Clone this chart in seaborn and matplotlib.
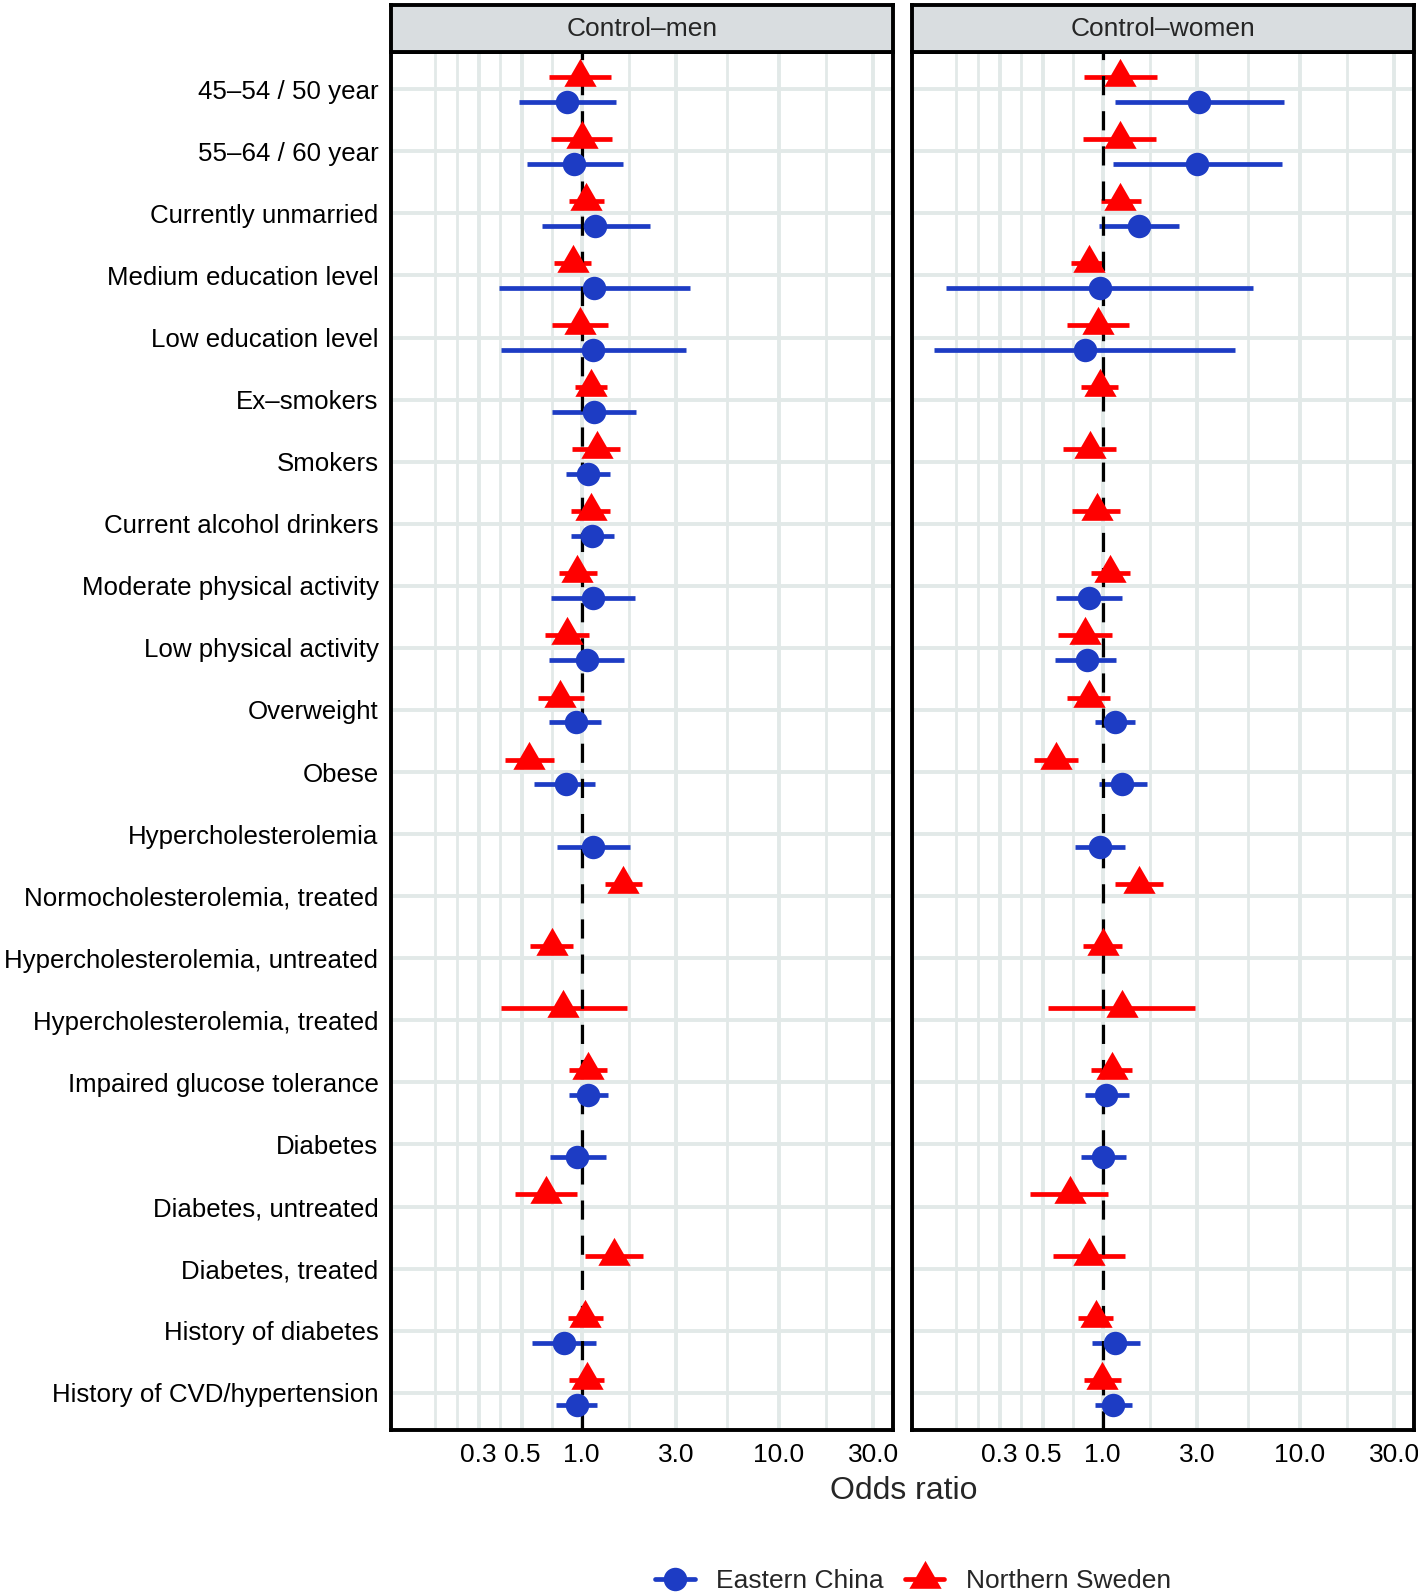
import numpy as np
import pandas as pd
import matplotlib
matplotlib.use("Agg")
import matplotlib.pyplot as plt
from matplotlib.lines import Line2D
from matplotlib.ticker import NullFormatter
import seaborn as sns

sns.set_theme(style="white")
plt.rcParams["font.family"] = ["Liberation Sans", "DejaVu Sans"]

# ── data ─────────────────────────────────────────────────────────────────────
CATEGORIES = [
    "45–54 / 50 year", "55–64 / 60 year", "Currently unmarried",
    "Medium education level", "Low education level", "Ex–smokers", "Smokers",
    "Current alcohol drinkers", "Moderate physical activity",
    "Low physical activity", "Overweight", "Obese", "Hypercholesterolemia",
    "Normocholesterolemia, treated", "Hypercholesterolemia, untreated",
    "Hypercholesterolemia, treated", "Impaired glucose tolerance", "Diabetes",
    "Diabetes, untreated", "Diabetes, treated", "History of diabetes",
    "History of CVD/hypertension",
]
nan = np.nan

# Control-men, Northern Sweden
men_se_or = [0.98, 1.00, 1.05, 0.90, 0.98, 1.11, 1.19, 1.11, 0.95, 0.84, 0.78, 0.54,
             nan, 1.62, 0.71, 0.80, 1.07, nan, 0.66, 1.46, 1.04, 1.06]
men_se_lo = [0.68, 0.70, 0.86, 0.72, 0.71, 0.92, 0.89, 0.88, 0.77, 0.65, 0.60, 0.41,
             nan, 1.31, 0.55, 0.39, 0.86, nan, 0.46, 1.04, 0.85, 0.86]
men_se_hi = [1.40, 1.43, 1.30, 1.11, 1.36, 1.35, 1.57, 1.39, 1.19, 1.09, 1.03, 0.72,
             nan, 2.01, 0.90, 1.69, 1.34, nan, 0.95, 2.04, 1.28, 1.29]
# Control-men, Eastern China
men_cn_or = [0.84, 0.91, 1.17, 1.16, 1.14, 1.15, 1.08, 1.13, 1.14, 1.06, 0.93, 0.83,
             1.14, nan, nan, nan, 1.08, 0.95, nan, nan, 0.81, 0.95]
men_cn_lo = [0.48, 0.53, 0.63, 0.38, 0.39, 0.71, 0.83, 0.88, 0.70, 0.68, 0.68, 0.57,
             0.75, nan, nan, nan, 0.86, 0.69, nan, nan, 0.56, 0.74]
men_cn_hi = [1.49, 1.61, 2.21, 3.53, 3.37, 1.89, 1.39, 1.45, 1.86, 1.64, 1.25, 1.17,
             1.75, nan, nan, nan, 1.36, 1.32, nan, nan, 1.18, 1.20]
# Control-women, Northern Sweden
wom_se_or = [1.22, 1.22, 1.23, 0.85, 0.95, 0.97, 0.86, 0.93, 1.09, 0.81, 0.85, 0.58,
             nan, 1.53, 1.00, 1.25, 1.11, nan, 0.68, 0.85, 0.92, 0.99]
wom_se_lo = [0.80, 0.79, 0.98, 0.69, 0.66, 0.78, 0.63, 0.70, 0.87, 0.59, 0.66, 0.45,
             nan, 1.15, 0.79, 0.53, 0.87, nan, 0.43, 0.56, 0.75, 0.80]
wom_se_hi = [1.88, 1.86, 1.56, 1.02, 1.36, 1.19, 1.17, 1.22, 1.37, 1.12, 1.09, 0.75,
             nan, 2.03, 1.25, 2.94, 1.41, nan, 1.06, 1.29, 1.13, 1.24]
# Control-women, Eastern China
wom_cn_or = [3.08, 3.02, 1.52, 0.97, 0.81, nan, nan, nan, 0.85, 0.83, 1.15, 1.25,
             0.97, nan, nan, nan, 1.04, 1.00, nan, nan, 1.16, 1.13]
wom_cn_lo = [1.15, 1.13, 0.96, 0.16, 0.14, nan, nan, nan, 0.58, 0.57, 0.91, 0.96,
             0.72, nan, nan, nan, 0.81, 0.78, nan, nan, 0.88, 0.91]
wom_cn_hi = [8.26, 8.10, 2.43, 5.75, 4.70, nan, nan, nan, 1.25, 1.17, 1.45, 1.67,
             1.29, nan, nan, nan, 1.36, 1.31, nan, nan, 1.55, 1.41]

PANELS = ["Control–men", "Control–women"]
REGIONS = ["Eastern China", "Northern Sweden"]
BREAKS = [0.3, 0.5, 1.0, 3.0, 10.0, 30.0]
BREAK_LABELS = ["0.3", "0.5", "1.0", "3.0", "10.0", "30.0"]

BLUE = "#1d3cc4"
RED = "#ff0000"
GRID = "#e2e9e8"
TRI = [(0, 1), (-0.866, -0.5), (0.866, -0.5), (0, 1)]
FS = 19

frames = []
for panel, reg, o, lo, hi in [
    (PANELS[0], REGIONS[1], men_se_or, men_se_lo, men_se_hi),
    (PANELS[0], REGIONS[0], men_cn_or, men_cn_lo, men_cn_hi),
    (PANELS[1], REGIONS[1], wom_se_or, wom_se_lo, wom_se_hi),
    (PANELS[1], REGIONS[0], wom_cn_or, wom_cn_lo, wom_cn_hi),
]:
    frames.append(pd.DataFrame({"panel": panel, "region": reg, "cat": CATEGORIES,
                                "OR": o, "lo": lo, "hi": hi}))
df = pd.concat(frames, ignore_index=True).dropna()
df["y"] = df["cat"].map({c: i for i, c in enumerate(CATEGORIES)})
df["y"] = df["y"] + np.where(df["region"] == REGIONS[0], 0.2, -0.2)

style = {REGIONS[0]: dict(color=BLUE, marker="o", s=285),
         REGIONS[1]: dict(color=RED, marker=TRI, s=720)}

# minor grid: geometric midpoints of the breaks (ggplot style), plus one extension below
lb = np.log10(BREAKS)
ext = np.concatenate([[lb[0] - (lb[1] - lb[0])], lb])
minor = list(10 ** ext[:1]) + list(10 ** ((ext[:-1] + ext[1:]) / 2))

W, H = 1418, 1594
fig = plt.figure(figsize=(W / 100, H / 100), dpi=100)
pan_x = [391, 912]
pan_w = 502
top, bot = 52, 1430

for k, panel in enumerate(PANELS):
    ax = fig.add_axes([pan_x[k] / W, 1 - bot / H, pan_w / W, (bot - top) / H])
    sub = df[df["panel"] == panel]
    ax.set_xscale("log")
    ax.set_axisbelow(True)
    for reg in REGIONS:
        d = sub[sub["region"] == reg]
        ax.hlines(d["y"], d["lo"], d["hi"], color=style[reg]["color"], lw=3.4, zorder=2)
        sns.scatterplot(data=d, x="OR", y="y", ax=ax, color=style[reg]["color"],
                        marker=style[reg]["marker"], s=style[reg]["s"],
                        linewidth=0, legend=False, zorder=4)
    ax.axvline(1, color="black", lw=2.3, ls=(0, (6, 5)), zorder=3)

    ax.set_xlim(0.108, 37.8)
    ax.set_ylim(len(CATEGORIES) - 1 + 0.6, -0.6)
    ax.set_xticks(BREAKS)
    ax.set_xticklabels(BREAK_LABELS)
    ax.set_xticks(minor, minor=True)
    ax.xaxis.set_minor_formatter(NullFormatter())
    ax.set_yticks(range(len(CATEGORIES)))
    if k == 0:
        ax.set_yticklabels(CATEGORIES)
        ax.tick_params(axis="y", length=5.5, width=2.2, pad=3.5, labelsize=18.6,
                       color="black", labelcolor="black")
    else:
        ax.set_yticklabels([])
        ax.tick_params(axis="y", length=0)
    ax.tick_params(axis="x", which="major", length=5.5, width=2.2, pad=4,
                   labelsize=FS, color="black", labelcolor="black")
    ax.tick_params(axis="x", which="minor", length=0)
    ax.grid(which="major", color=GRID, lw=2.8)
    ax.grid(which="minor", axis="x", color=GRID, lw=2.0)
    ax.set_xlabel("")
    ax.set_ylabel("")
    ax.set_facecolor("white")
    for sp in ax.spines.values():
        sp.set_visible(True)
        sp.set_color("black")
        sp.set_linewidth(2.8)

    strip = fig.add_axes([pan_x[k] / W, 1 - top / H, pan_w / W, (top - 5) / H])
    strip.set_facecolor("#d9dde0")
    strip.set_xticks([])
    strip.set_yticks([])
    for sp in strip.spines.values():
        sp.set_visible(True)
        sp.set_color("black")
        sp.set_linewidth(2.8)
    strip.text(0.5, 0.5, panel, ha="center", va="center", fontsize=FS,
               transform=strip.transAxes)

fig.text(904 / W, 1 - 1491 / H, "Odds ratio", ha="center", va="center", fontsize=23)

handles = [Line2D([0], [0], color=BLUE, lw=3.4, marker="o", ms=16.9, markeredgewidth=0),
           Line2D([0], [0], color=RED, lw=3.4, marker=TRI, ms=26.8, markeredgewidth=0)]
fig.legend(handles, REGIONS, loc="center", bbox_to_anchor=(913 / W, 1 - 1581 / H),
           ncol=2, frameon=False, fontsize=FS, handlelength=1.5,
           handletextpad=0.8, columnspacing=0.8)

plt.savefig("out.png", dpi=100)
plt.close()
